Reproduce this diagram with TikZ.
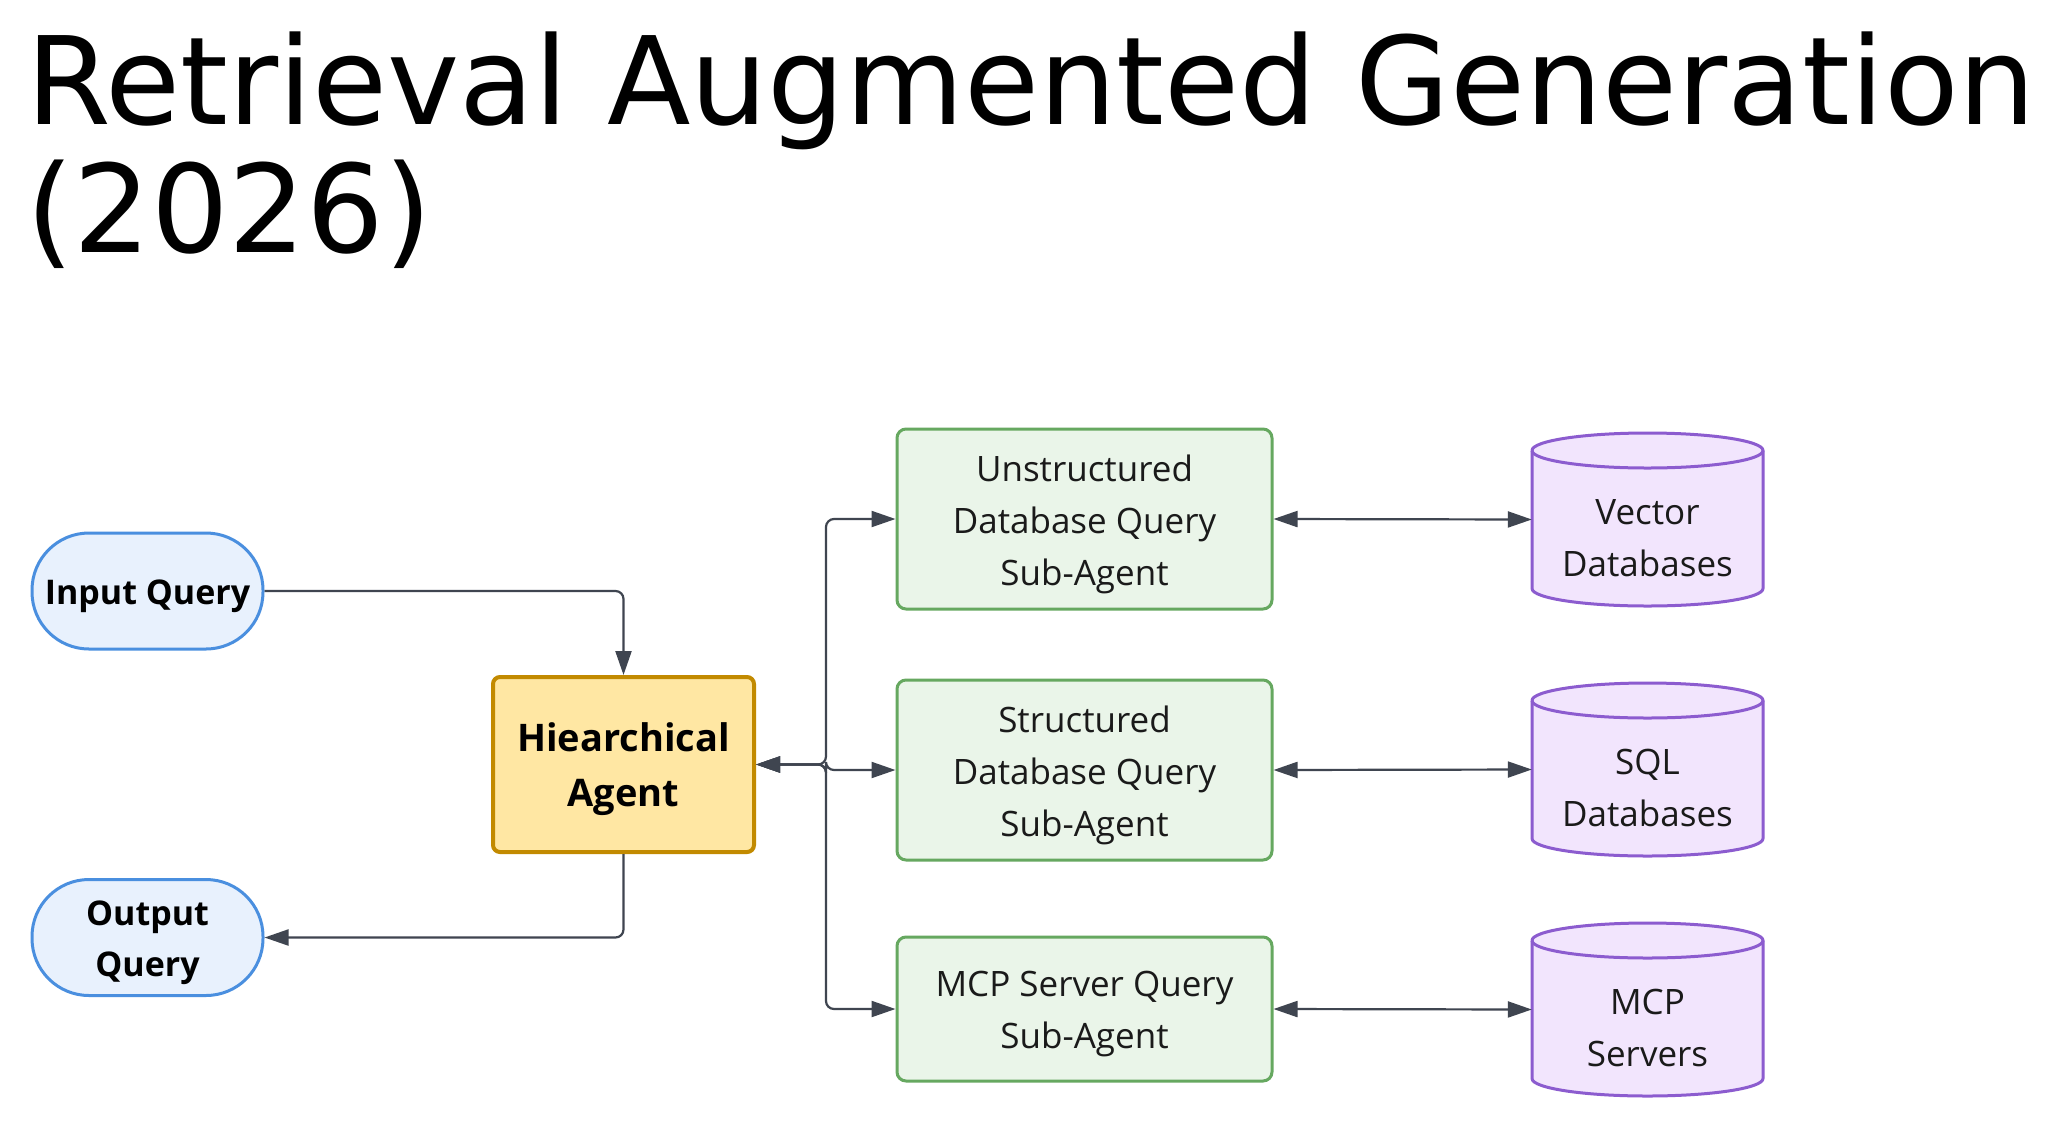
\documentclass[tikz,border=0pt]{standalone}
\usepackage{fontspec}
\setmainfont{Open Sans}
\newfontfamily\titlefont{DejaVu Sans}
\usetikzlibrary{arrows.meta}
\definecolor{inblue}{HTML}{4A8FDF}
\definecolor{infill}{HTML}{E8F1FD}
\definecolor{agstroke}{HTML}{C28A00}
\definecolor{agfill}{HTML}{FFE7A3}
\definecolor{grstroke}{HTML}{66A860}
\definecolor{grfill}{HTML}{EAF5E9}
\definecolor{cystroke}{HTML}{8C5CCF}
\definecolor{cyfill}{HTML}{F2E5FD}
\definecolor{conncol}{HTML}{3F4550}
\definecolor{txt}{HTML}{1A1A1A}
\newcommand{\dn}[1]{\raisebox{-5pt}[\height][\depth]{#1}}
\newcommand{\dbcyl}[4]{%
  \path[fill=cyfill] (#2-115.5,#3+69) -- (#2-115.5,#3-69)
    arc[start angle=180,end angle=360,x radius=115.5,y radius=17.5]
    -- (#2+115.5,#3+69)
    arc[start angle=0,end angle=180,x radius=115.5,y radius=17.5] -- cycle;
  \draw[cystroke,line width=3pt,line join=round] (#2-115.5,#3+69) -- (#2-115.5,#3-69)
    arc[start angle=180,end angle=360,x radius=115.5,y radius=17.5]
    -- (#2+115.5,#3+69)
    arc[start angle=0,end angle=180,x radius=115.5,y radius=17.5];
  \draw[cystroke,line width=3pt] (#2-115.5,#3+69)
    arc[start angle=180,end angle=360,x radius=115.5,y radius=17.5];
  \node[minimum width=231pt,minimum height=173pt,inner sep=0] (#1) at (#2,#3) {};
  \node[cyltext] (#1-t) at (#2,#3-18.5) {#4};
}
\begin{document}
\begin{tikzpicture}[x=1pt,y=1pt,
  pill/.style={draw=inblue,fill=infill,line width=3pt,rounded corners=57pt,
    minimum width=231pt,minimum height=116pt,inner sep=0,align=center,
    text=black,font=\bfseries\fontsize{34}{51}\selectfont},
  agentbox/.style={draw=agstroke,fill=agfill,line width=4pt,rounded corners=7pt,
    minimum width=261pt,minimum height=175pt,inner sep=0,align=center,
    text=black,font=\bfseries\fontsize{38}{55}\selectfont},
  subbox/.style={draw=grstroke,fill=grfill,line width=3pt,rounded corners=9pt,
    minimum width=375pt,inner sep=0,align=center,text=txt,
    font=\fontsize{35}{52}\selectfont},
  cyltext/.style={inner sep=0,align=center,text=txt,font=\fontsize{35}{52}\selectfont},
  conn/.style={draw=conncol,line width=2.2pt,rounded corners=8pt},
  tip/.style={-{Triangle[length=24pt,width=16pt]}},
  tips/.style={{Triangle[length=24pt,width=16pt]}-{Triangle[length=24pt,width=16pt]}}
]
\useasboundingbox[fill=white] (0,0) rectangle (2056,-1128);

\node[anchor=base west,inner sep=0,font=\titlefont\fontsize{122}{150}\selectfont] (title1) at (26,-124) {Retrieval Augmented Generation};
\node[anchor=base west,inner sep=0,font=\titlefont\fontsize{122}{150}\selectfont] (title2) at (26,-252) {(2026)};

\node[pill] (inq) at (147.5,-591) {\dn{Input Query}};
\node[pill] (outq) at (147.5,-937.5) {\dn{Output}\\\dn{Query}};
\node[agentbox] (agent) at (623.5,-764.5) {\dn{Hiearchical}\\\dn{Agent}};

\node[subbox,minimum height=180pt] (uq) at (1084.5,-519) {\dn{Unstructured}\\\dn{Database Query}\\\dn{Sub-Agent}};
\node[subbox,minimum height=180pt] (sq) at (1084.5,-770) {\dn{Structured}\\\dn{Database Query}\\\dn{Sub-Agent}};
\node[subbox,minimum height=144pt] (mq) at (1084.5,-1009) {\dn{MCP Server Query}\\\dn{Sub-Agent}};

\dbcyl{vdb}{1647.5}{-519.5}{Vector\\Databases}
\dbcyl{sdb}{1647.5}{-769.5}{SQL\\Databases}
\dbcyl{mdb}{1647.5}{-1009.5}{MCP\\Servers}

\coordinate (br) at (826,-764.5);

\draw[conn,tip] (inq.east) -| (agent.north);
\draw[conn,tip] (agent.south) |- (outq.east);

\draw[conn,tips] (agent.east) -- (br) |- (uq.west);
\draw[conn,tips] (agent.east) -- (br) -- (br |- sq.west) -- (sq.west);
\draw[conn,tips] (agent.east) -- (br) |- (mq.west);

\draw[conn,tips] (uq.east) -- (vdb.west);
\draw[conn,tips] (sq.east) -- (sdb.west);
\draw[conn,tips] (mq.east) -- (mdb.west);
\end{tikzpicture}
\end{document}
